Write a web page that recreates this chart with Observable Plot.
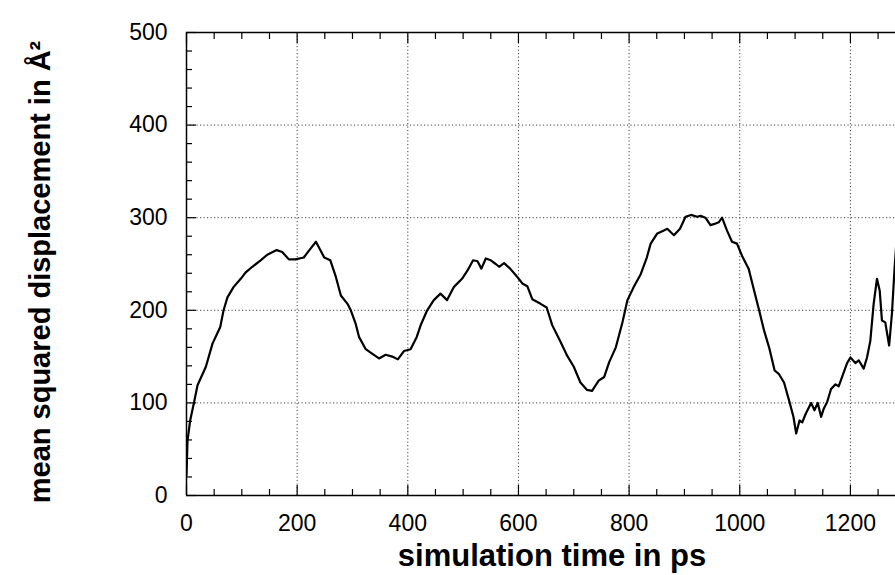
<!DOCTYPE html>
<html><head><meta charset="utf-8">
<script src="https://cdn.jsdelivr.net/npm/d3@7"></script>
<script src="https://cdn.jsdelivr.net/npm/@observablehq/plot@0.6"></script>
<style>
body{margin:0;background:#fff}
svg{font-family:"Liberation Sans",Arial,Helvetica,sans-serif}
</style>
</head><body><div id="chart"></div>
<script>
const timePs = [0,1.8,6.6,13.8,19.9,35,47,61,67,74,85,98,107,119,134,146,163,173,185,197,212,222,234,249,260,270,279,291,297,306,312,324,336,348,360,372,382,393,405,416,424,435,447,459,471,483,498,508,518,526,533,541,550,559,565,574,585,598,607,616,625,640,651,661,676,688,700,712,724,733,745,755,764,776,788,797,809,821,832,839,851,862,869,881,892,902,912,923,929,938,947,953,962,968,977,986,995,1004,1016,1026,1035,1044,1053,1063,1071,1080,1089,1097,1102,1108,1113,1119,1129,1135,1141,1147,1152,1158,1165,1173,1179,1185,1194,1200,1209,1215,1224,1230,1236,1242,1248,1253,1257,1263,1270,1275,1280,1283];
const msd = [22,59,81,101,119,139,164,182,200,214,225,234,241,247,254,260,265,263,255,255,257,265,274,257,254,236,216,207,200,185,171,158,153,148,152,150,147,156,158,171,185,200,211,218,211,225,234,243,254,253,245,256,254,250,247,251,245,236,229,226,212,207,203,184,166,151,139,122,114,113,124,128,144,160,187,211,226,239,257,272,283,286,288,281,288,301,303,301,302,300,292,293,295,300,286,274,272,259,245,221,200,178,160,135,131,122,103,85,67,81,79,88,100,92,100,85,94,101,115,120,118,128,143,149,143,146,137,149,167,207,234,221,189,187,162,196,247,272];
const xMajorTicks = [0,200,400,600,800,1000,1200];
const xMinorTicks = [50,100,150,250,300,350,450,500,550,650,700,750,850,900,950,1050,1100,1150,1250];
const yMajorTicks = [0,100,200,300,400,500];
const yMinorTicks = [20,40,60,80,120,140,160,180,220,240,260,280,320,340,360,380,420,440,460,480];
const xLabel = "simulation time in ps";
const yLabel = "mean squared displacement in Å²";

const data = timePs.map((t, i) => ({t, msd: msd[i]}));
const gridStyle = {stroke: "#444", strokeOpacity: 1, strokeWidth: 1, strokeDasharray: "1.2,2.3"};
const fmt = d => String(d);

const chart = Plot.plot({
  width: 895, height: 575,
  marginLeft: 186, marginRight: 0, marginTop: 32, marginBottom: 80,
  x: {domain: [0, 1281.5]},
  y: {domain: [0, 500]},
  style: {fontFamily: "'Liberation Sans', Arial, sans-serif", fontSize: "23px", color: "#000", background: "#fff"},
  marks: [
    Plot.gridX(xMajorTicks.filter(d => d > 0), gridStyle),
    Plot.gridY(yMajorTicks.filter(d => d > 0 && d < 500), gridStyle),
    Plot.axisX(xMinorTicks, {anchor: "bottom", tickSize: -6, text: null, label: null, strokeWidth: 1.2}),
    Plot.axisX(xMajorTicks, {anchor: "bottom", tickSize: -10, text: null, label: null, strokeWidth: 1.2}),
    Plot.axisX(xMinorTicks, {anchor: "top", tickSize: -6, text: null, label: null, strokeWidth: 1.2}),
    Plot.axisX(xMajorTicks, {anchor: "top", tickSize: -10, text: null, label: null, strokeWidth: 1.2}),
    Plot.axisY(yMinorTicks, {anchor: "left", tickSize: -6, text: null, label: null, strokeWidth: 1.2}),
    Plot.axisY(yMajorTicks, {anchor: "left", tickSize: -10, text: null, label: null, strokeWidth: 1.2}),
    Plot.axisX(xMajorTicks, {anchor: "bottom", tickSize: 0, tickPadding: 19, tickFormat: fmt, label: null, fontSize: 23}),
    Plot.axisY(yMajorTicks, {anchor: "left", tickSize: 0, tickPadding: 19, tickFormat: fmt, label: null, fontSize: 23}),
    Plot.ruleX([0], {strokeWidth: 1.5}),
    Plot.ruleY([0, 500], {strokeWidth: 1.5}),
    Plot.line(data, {x: "t", y: "msd", stroke: "#000", strokeWidth: 2.2, clip: true}),
    Plot.text([xLabel], {frameAnchor: "bottom", dx: 11, dy: 70, fontSize: 31, fontWeight: "bold", fill: "#000"}),
    Plot.text([yLabel], {frameAnchor: "left", textAnchor: "middle", dx: -146, dy: 8, rotate: -90, fontSize: 29, fontWeight: "bold", fill: "#000"})
  ]
});
document.getElementById("chart").appendChild(chart);
</script>
</body></html>
